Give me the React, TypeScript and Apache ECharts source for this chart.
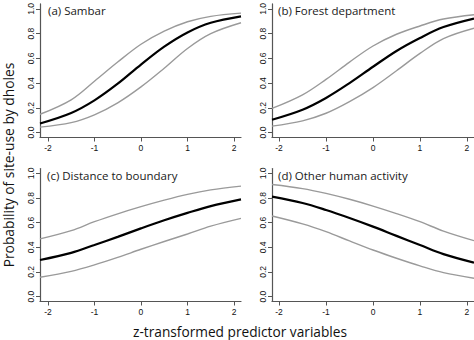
import React, { useEffect, useRef } from "react";
import * as echarts from "echarts";

// predictor (z) values at which curves were read, left column and right column
const zLeft = [-2.17, -1.5, -1, -0.5, 0, 0.5, 1, 1.5, 2.15];
const zRight = [-2.15, -1.5, -1, -0.5, 0, 0.5, 1, 1.5, 2.15];

// (a) Sambar
const aMid = [0.073, 0.158, 0.26, 0.395, 0.55, 0.695, 0.81, 0.888, 0.94];
const aUp = [0.148, 0.265, 0.415, 0.57, 0.714, 0.82, 0.896, 0.94, 0.966];
const aLo = [0.044, 0.08, 0.143, 0.24, 0.369, 0.52, 0.68, 0.8, 0.888];
// (b) Forest department
const bMid = [0.104, 0.185, 0.28, 0.4, 0.532, 0.66, 0.765, 0.853, 0.922];
const bUp = [0.195, 0.305, 0.43, 0.57, 0.7, 0.795, 0.862, 0.918, 0.953];
const bLo = [0.052, 0.095, 0.156, 0.25, 0.364, 0.5, 0.64, 0.76, 0.844];
// (c) Distance to boundary
const cMid = [0.297, 0.355, 0.419, 0.485, 0.554, 0.62, 0.68, 0.735, 0.789];
const cUp = [0.468, 0.535, 0.608, 0.672, 0.73, 0.783, 0.83, 0.866, 0.897];
const cLo = [0.157, 0.205, 0.257, 0.318, 0.384, 0.447, 0.508, 0.572, 0.635];
// (d) Other human activity
const dMid = [0.811, 0.76, 0.703, 0.638, 0.568, 0.493, 0.419, 0.345, 0.276];
const dUp = [0.91, 0.877, 0.838, 0.79, 0.735, 0.674, 0.608, 0.532, 0.454];
const dLo = [0.654, 0.59, 0.527, 0.452, 0.378, 0.311, 0.249, 0.194, 0.149];

const panelTitles = [
  "(a) Sambar",
  "(b) Forest department",
  "(c) Distance to boundary",
  "(d) Other human activity",
];
const xTicks = [-2, -1, 0, 1, 2];
const yTicks = [0, 0.2, 0.4, 0.6, 0.8, 1.0];
const yTitle = "Probability of site-use by dholes";
const xTitle = "z-transformed predictor variables";

export default function App() {
  const ref = useRef<HTMLDivElement>(null);
  useEffect(() => {
    if (!ref.current) return;
    const chart = echarts.init(ref.current, undefined, { renderer: "svg" });
    const grids = [
      { left: 40, top: 1.5, width: 201, height: 136 },
      { left: 272, top: 1.5, width: 202, height: 136 },
      { left: 40, top: 168.5, width: 201, height: 133 },
      { left: 272, top: 168.5, width: 202, height: 133 },
    ];
    const axisColor = "#555";
    const labelFont = "Liberation Sans";
    const xAxes = grids.map((_, i) => ({
      type: "value",
      gridIndex: i,
      min: i % 2 === 0 ? -2.17 : -2.15,
      max: 2.15,
      splitLine: { show: false },
      axisLine: { show: true, onZero: false, lineStyle: { color: axisColor, width: 1.2 } },
      axisTick: { show: true, length: 4, customValues: xTicks, lineStyle: { color: axisColor } },
      axisLabel: {
        customValues: xTicks,
        margin: 6,
        fontSize: 8.5,
        fontFamily: labelFont,
        color: "#111",
        formatter: (v: number) => String(v),
      },
    }));
    const yAxes = grids.map((_, i) => ({
      type: "value",
      gridIndex: i,
      min: -0.04,
      max: 1.04,
      splitLine: { show: false },
      axisLine: { show: true, onZero: false, lineStyle: { color: axisColor, width: 1.2 } },
      axisTick: { show: true, length: 4, customValues: yTicks, lineStyle: { color: axisColor } },
      axisLabel: {
        customValues: yTicks,
        rotate: 90,
        margin: 5,
        fontSize: 8.5,
        fontFamily: labelFont,
        color: "#111",
        formatter: (v: number) => v.toFixed(1),
      },
    }));
    const sets = [
      [zLeft, aMid, aUp, aLo],
      [zRight, bMid, bUp, bLo],
      [zLeft, cMid, cUp, cLo],
      [zRight, dMid, dUp, dLo],
    ] as number[][][];
    const series: any[] = [];
    sets.forEach(([z, mid, up, lo], i) => {
      const mk = (vals: number[], color: string, width: number) => ({
        type: "line",
        xAxisIndex: i,
        yAxisIndex: i,
        data: z.map((x, k) => [x, vals[k]]),
        smooth: 0.35,
        showSymbol: false,
        symbol: "none",
        lineStyle: { color, width },
        silent: true,
      });
      series.push(mk(up, "#9a9a9a", 1.4));
      series.push(mk(lo, "#9a9a9a", 1.4));
      series.push(mk(mid, "#000", 2.2));
    });
    const titleFont = "Open Sans";
    const titlePos = [
      [48, 10],
      [278, 10],
      [47, 175],
      [278, 175],
    ];
    const graphic: any[] = panelTitles.map((t, i) => ({
      type: "text",
      x: titlePos[i][0],
      y: titlePos[i][1],
      style: {
        text: t,
        fontFamily: titleFont,
        fontSize: 11.5,
        fill: "#1a1a1a",
        verticalAlign: "middle",
        textAlign: "left",
      },
    }));
    graphic.push({
      type: "text",
      x: 240,
      y: 331,
      style: {
        text: xTitle,
        fontFamily: titleFont,
        fontSize: 13.7,
        fill: "#111",
        textAlign: "center",
        verticalAlign: "middle",
      },
    });
    graphic.push({
      type: "text",
      x: 8.5,
      y: 165,
      rotation: Math.PI / 2,
      style: {
        text: yTitle,
        fontFamily: titleFont,
        fontSize: 13.8,
        fill: "#111",
        textAlign: "center",
        verticalAlign: "middle",
      },
    });
    chart.setOption({
      animation: false,
      backgroundColor: "#fff",
      grid: grids,
      xAxis: xAxes,
      yAxis: yAxes,
      series,
      graphic,
    });
    return () => chart.dispose();
  }, []);
  return (
    <div
      ref={ref}
      style={{ position: "fixed", left: 0, top: 0, width: 474, height: 340 }}
    />
  );
}
